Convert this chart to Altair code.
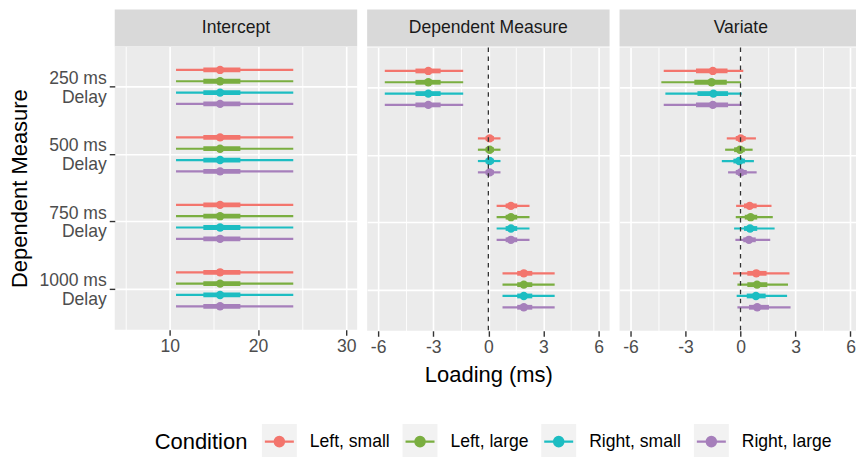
import altair as alt
import pandas as pd

panels = ["Intercept", "Dependent Measure", "Variate"]
measures = ["250 ms Delay", "500 ms Delay", "750 ms Delay", "1000 ms Delay"]
conditions = ["Left, small", "Left, large", "Right, small", "Right, large"]
colors = ["#F3756D", "#7AAE40", "#1DBDC2", "#A67FBB"]

# values[measure][condition]
intercept_est = [[15.7, 15.7, 15.7, 15.7], [15.7, 15.7, 15.7, 15.7],
                 [15.7, 15.7, 15.7, 15.7], [15.7, 15.7, 15.7, 15.7]]
intercept_lo_outer = [[10.7, 10.7, 10.7, 10.7], [10.7, 10.7, 10.7, 10.7],
                      [10.7, 10.7, 10.7, 10.7], [10.7, 10.7, 10.7, 10.7]]
intercept_hi_outer = [[24.0, 24.0, 24.0, 24.0], [24.0, 24.0, 24.0, 24.0],
                      [24.0, 24.0, 24.0, 24.0], [24.0, 24.0, 24.0, 24.0]]
intercept_lo_inner = [[13.8, 13.8, 13.8, 13.8], [13.8, 13.8, 13.8, 13.8],
                      [13.8, 13.8, 13.8, 13.8], [13.8, 13.8, 13.8, 13.8]]
intercept_hi_inner = [[18.0, 18.0, 18.0, 18.0], [18.0, 18.0, 18.0, 18.0],
                      [18.0, 18.0, 18.0, 18.0], [18.0, 18.0, 18.0, 18.0]]

dm_est = [[-3.27, -3.27, -3.27, -3.27], [0.07, 0.07, 0.07, 0.07],
          [1.23, 1.23, 1.23, 1.23], [1.93, 1.93, 1.93, 1.93]]
dm_lo_outer = [[-5.64, -5.64, -5.64, -5.64], [-0.57, -0.57, -0.57, -0.57],
               [0.45, 0.45, 0.45, 0.45], [0.77, 0.77, 0.77, 0.77]]
dm_hi_outer = [[-1.37, -1.37, -1.37, -1.37], [0.66, 0.66, 0.66, 0.66],
               [2.24, 2.24, 2.24, 2.24], [3.61, 3.61, 3.61, 3.61]]
dm_lo_inner = [[-3.97, -3.97, -3.97, -3.97], [-0.15, -0.15, -0.15, -0.15],
               [0.94, 0.94, 0.94, 0.94], [1.57, 1.57, 1.57, 1.57]]
dm_hi_inner = [[-2.60, -2.60, -2.60, -2.60], [0.30, 0.30, 0.30, 0.30],
               [1.57, 1.57, 1.57, 1.57], [2.39, 2.39, 2.39, 2.39]]

var_est = [[-1.51, -1.58, -1.48, -1.51], [0.01, -0.03, -0.07, 0.01],
           [0.50, 0.55, 0.52, 0.46], [0.86, 0.90, 0.84, 0.91]]
var_lo_outer = [[-4.19, -4.32, -4.10, -4.19], [-0.75, -0.84, -1.02, -0.68],
                [-0.24, -0.26, -0.35, -0.28], [-0.41, -0.17, -0.21, -0.17]]
var_hi_outer = [[0.15, 0.03, 0.06, 0.06], [0.84, 0.66, 0.73, 0.88],
                [1.69, 1.76, 1.86, 1.62], [2.67, 2.59, 2.54, 2.73]]
var_lo_inner = [[-2.43, -2.52, -2.35, -2.43], [-0.26, -0.35, -0.39, -0.26],
                [0.19, 0.23, 0.19, 0.15], [0.37, 0.37, 0.34, 0.46]]
var_hi_inner = [[-0.71, -0.75, -0.68, -0.68], [0.28, 0.23, 0.24, 0.34],
                [0.88, 0.91, 0.91, 0.83], [1.42, 1.46, 1.37, 1.55]]

# the reference image is cut at its right edge, just past the "6" tick of the last panel
x_domains = {"Intercept": [3.75, 31.25], "Dependent Measure": [-6.6, 6.6], "Variate": [-6.6, 6.3]}
panel_widths = {"Intercept": 243, "Dependent Measure": 243, "Variate": 237}
x_ticks = {"Intercept": [5, 10, 15, 20, 25, 30],
           "Dependent Measure": [-6, -4.5, -3, -1.5, 0, 1.5, 3, 4.5, 6],
           "Variate": [-6, -4.5, -3, -1.5, 0, 1.5, 3, 4.5, 6]}
x_major = {"Intercept": 10, "Dependent Measure": 3, "Variate": 3}
zero_line = [0]

sources = {
    "Intercept": (intercept_est, intercept_lo_outer, intercept_hi_outer, intercept_lo_inner, intercept_hi_inner),
    "Dependent Measure": (dm_est, dm_lo_outer, dm_hi_outer, dm_lo_inner, dm_hi_inner),
    "Variate": (var_est, var_lo_outer, var_hi_outer, var_lo_inner, var_hi_inner),
}

FONT = "Liberation Sans"
PH, SH = 284, 37
LX, LY = 40, 414

symbol_path = ("M-1,-1M1,1M-0.83,0L0.83,0M-0.27,0A0.27,0.27,0,1,0,0.27,0"
               "A0.27,0.27,0,1,0,-0.27,0Z")

common = dict(orient="none", legendY=LY, direction="horizontal",
              labelFont=FONT, labelFontSize=17.6, labelOffset=11.5,
              columnPadding=8, symbolSize=1225, symbolStrokeWidth=2.2, padding=0)

main_legend = alt.Legend(
    title="Condition", legendX=LX,
    titleOrient="left", titleFontSize=22, titleFontWeight="normal", titleColor="black",
    titleFont=FONT, titlePadding=13, titleAnchor="middle", titleBaseline="middle",
    labelColor="black", symbolType=symbol_path, zindex=2, **common)
bg_legend = alt.Legend(
    title=None, legendX=LX + 106,
    labelColor="transparent", symbolType="square", symbolStrokeColor="transparent",
    symbolOpacity=1, zindex=1, **common)


def build_df(name):
    est, lo_o, hi_o, lo_i, hi_i = sources[name]
    rows = []
    for mi, m in enumerate(measures):
        for ci, c in enumerate(conditions):
            rows.append({"measure": m, "condition": c, "cond_bg": c,
                         "est": est[mi][ci], "lo_o": lo_o[mi][ci], "hi_o": hi_o[mi][ci],
                         "lo_i": lo_i[mi][ci], "hi_i": hi_i[mi][ci]})
    return pd.DataFrame(rows)


def panel(name, idx):
    df = build_df(name)
    pw = panel_widths[name]
    major = x_major[name]
    test = f"datum.value % {major} == 0"
    xaxis = alt.Axis(
        values=x_ticks[name], title="Loading (ms)" if idx == 1 else None,
        labelExpr=f"{test} ? toString(datum.value) : ''",
        domain=False, grid=True, gridColor="white",
        gridWidth={"condition": {"test": test, "value": 1.6}, "value": 0.9},
        tickColor="#333333", tickSize=5.5, tickWidth=1.4,
        tickOpacity={"condition": {"test": test, "value": 1}, "value": 0},
        labelFont=FONT, labelFontSize=17.6, labelColor="#4D4D4D", labelPadding=2,
        labelFlush=False, labelOverlap=False,
        titleFont=FONT, titleFontSize=22, titleFontWeight="normal", titleColor="black",
        titlePadding=9,
    )
    if idx == 0:
        yaxis = alt.Axis(
            title="Dependent Measure", bandPosition=0.5,
            labelExpr="[replace(datum.label, ' Delay', ''), 'Delay']",
            labelAlign="right", labelBaseline="middle", labelLineHeight=18.7, labelOffset=-8,
            labelFont=FONT, labelFontSize=17.6, labelColor="#4D4D4D", labelPadding=3,
            domain=False, grid=True, gridColor="white", gridWidth=1.6,
            tickColor="#333333", tickSize=5.5, tickWidth=1.4,
            titleFont=FONT, titleFontSize=22, titleFontWeight="normal", titleColor="black",
            titlePadding=7,
        )
    else:
        yaxis = alt.Axis(title=None, labels=False, ticks=False, domain=False, bandPosition=0.5,
                         grid=True, gridColor="white", gridWidth=1.6)
    x_scale = alt.Scale(domain=x_domains[name], nice=False, zero=False)
    y = alt.Y("measure:N", sort=measures, axis=yaxis,
              scale=alt.Scale(paddingInner=0, paddingOuter=0.1))
    yo = alt.YOffset("condition:N", sort=conditions,
                     scale=alt.Scale(paddingInner=0, paddingOuter=0.98))
    col = alt.Color("condition:N", sort=conditions,
                    scale=alt.Scale(domain=conditions, range=colors), legend=main_legend)
    base = alt.Chart(df)
    thin = base.mark_rule(strokeWidth=2.2).encode(
        x=alt.X("lo_o:Q", scale=x_scale, axis=xaxis), x2="hi_o:Q", y=y, yOffset=yo, color=col)
    thick = base.mark_rule(strokeWidth=4.8).encode(
        x=alt.X("lo_i:Q", scale=x_scale, axis=xaxis), x2="hi_i:Q", y=y, yOffset=yo, color=col)
    pts = base.mark_point(filled=True, size=70, opacity=1).encode(
        x=alt.X("est:Q", scale=x_scale, axis=xaxis), y=y, yOffset=yo, color=col)
    layers = [thin, thick, pts]
    if idx == 0:
        bg = base.mark_point(opacity=0, size=1).encode(
            x=alt.X("est:Q", scale=x_scale, axis=xaxis), y=y, yOffset=yo,
            fill=alt.Fill("cond_bg:N", sort=conditions,
                          scale=alt.Scale(range=["#F2F2F2"] * 4), legend=bg_legend))
        layers = [bg] + layers
    if idx > 0:
        zl = alt.Chart(pd.DataFrame({"zero": zero_line})).mark_rule(
            color="#333333", strokeWidth=1.3, strokeDash=[4.5, 4.5]).encode(
            x=alt.X("zero:Q", scale=x_scale, axis=xaxis))
        layers.append(zl)
    plot = alt.layer(*layers).properties(
        width=pw, height=PH, view=alt.ViewBackground(fill="#EBEBEB", stroke=None))
    strip = alt.Chart(pd.DataFrame({"panel": [name]})).mark_text(
        font=FONT, fontSize=17.6, color="#1A1A1A").encode(
        text="panel:N", x=alt.value(243 / 2), y=alt.value(SH / 2)).properties(
        width=pw, height=SH, view=alt.ViewBackground(fill="#D9D9D9", stroke=None))
    return alt.vconcat(strip, plot, spacing=0)


chart = alt.hconcat(*[panel(n, i) for i, n in enumerate(panels)], spacing=10).resolve_scale(
    x="independent").resolve_axis(x="independent", y="independent").properties(
    padding={"left": 1, "top": 1, "right": 0, "bottom": 0}
).configure_view(stroke=None).configure(background="white")

chart.save("out.html", embed_options={"renderer": "svg", "actions": False})
